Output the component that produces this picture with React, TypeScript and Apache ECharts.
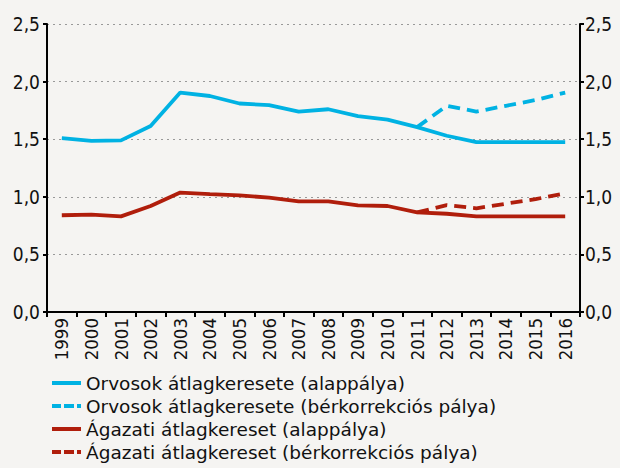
import React, { useEffect, useRef } from "react";
import * as echarts from "echarts";

const years = ["1999","2000","2001","2002","2003","2004","2005","2006","2007","2008","2009","2010","2011","2012","2013","2014","2015","2016"];
const doctorsBase = [1.51,1.485,1.49,1.615,1.905,1.875,1.81,1.795,1.74,1.76,1.70,1.67,1.605,1.53,1.475,1.475,1.475,1.475];
const doctorsCorr: (number | string)[] = ["-","-","-","-","-","-","-","-","-","-","-","-",1.605,1.79,1.74,1.79,1.84,1.905];
const sectorBase = [0.84,0.845,0.83,0.92,1.037,1.023,1.012,0.993,0.96,0.96,0.925,0.92,0.865,0.853,0.83,0.83,0.83,0.83];
const sectorCorr: (number | string)[] = ["-","-","-","-","-","-","-","-","-","-","-","-",0.865,0.928,0.90,0.94,0.98,1.03];
const names = [
  "Orvosok átlagkeresete (alappálya)",
  "Orvosok átlagkeresete (bérkorrekciós pálya)",
  "Ágazati átlagkereset (alappálya)",
  "Ágazati átlagkereset (bérkorrekciós pálya)",
];

const BLUE = "#00b2e3";
const RED = "#b01e0c";
const FONT = "DejaVu Sans Condensed";
const SOLID_ICON = "path://M0,0H29V4H0Z";
const DASH_ICON = "path://M0,0H9V4H0ZM12,0H22V4H12ZM25,0H29V4H25Z";

export default function App() {
  const ref = useRef<HTMLDivElement>(null);
  useEffect(() => {
    if (!ref.current) return;
    const chart = echarts.init(ref.current, null, { renderer: "svg" });
    const yAxisCommon = (pos: "left" | "right") => ({
      type: "value" as const,
      position: pos,
      min: 0,
      max: 2.5,
      interval: 0.5,
      axisLine: { show: true, lineStyle: { color: "#000", width: 2 } },
      axisTick: { show: true, length: 4, lineStyle: { color: "#000", width: 2 } },
      axisLabel: {
        color: "#111",
        fontSize: 19,
        fontFamily: FONT,
        margin: pos === "left" ? 7 : 5,
        formatter: (v: number) => v.toFixed(1).replace(".", ","),
      },
      splitLine: {
        show: pos === "left",
        lineStyle: { color: "#999", type: [2, 4] as any, width: 1 },
      },
    });
    const line = (name: string, data: any[], color: string, dashed: boolean) => ({
      name,
      type: "line" as const,
      data,
      symbol: "none",
      lineStyle: { color, width: 3.8, type: dashed ? ([12, 7] as any) : "solid" },
      itemStyle: { color },
      z: dashed ? 3 : 2,
    });
    chart.setOption({
      animation: false,
      backgroundColor: "#f5f4f2",
      textStyle: { fontFamily: FONT },
      grid: { left: 47, right: 40, top: 24, bottom: 156, containLabel: false },
      xAxis: {
        type: "category",
        data: years,
        boundaryGap: true,
        axisLine: { lineStyle: { color: "#000", width: 2 } },
        axisTick: { show: true, length: 5, lineStyle: { color: "#000", width: 2 } },
        axisLabel: { rotate: 90, color: "#111", fontSize: 18.5, fontFamily: FONT, margin: 6, interval: 0 },
      },
      yAxis: [yAxisCommon("left"), yAxisCommon("right")],
      legend: {
        orient: "vertical",
        left: 52,
        top: 373,
        padding: 0,
        itemWidth: 29,
        itemHeight: 4,
        itemGap: 3,
        textStyle: { fontSize: 18.5, lineHeight: 20, color: "#111", fontFamily: "DejaVu Sans", padding: [0, 0, 0, 0] },
        itemStyle: { borderWidth: 0 },
        lineStyle: { width: 0 },
        data: [
          { name: names[0], icon: SOLID_ICON },
          { name: names[1], icon: DASH_ICON },
          { name: names[2], icon: SOLID_ICON },
          { name: names[3], icon: DASH_ICON },
        ],
      },
      series: [
        line(names[0], doctorsBase, BLUE, false),
        line(names[1], doctorsCorr, BLUE, true),
        line(names[2], sectorBase, RED, false),
        line(names[3], sectorCorr, RED, true),
      ],
    });
    return () => chart.dispose();
  }, []);
  return <div ref={ref} style={{ position: "fixed", left: 0, top: 0, width: 620, height: 468 }} />;
}
